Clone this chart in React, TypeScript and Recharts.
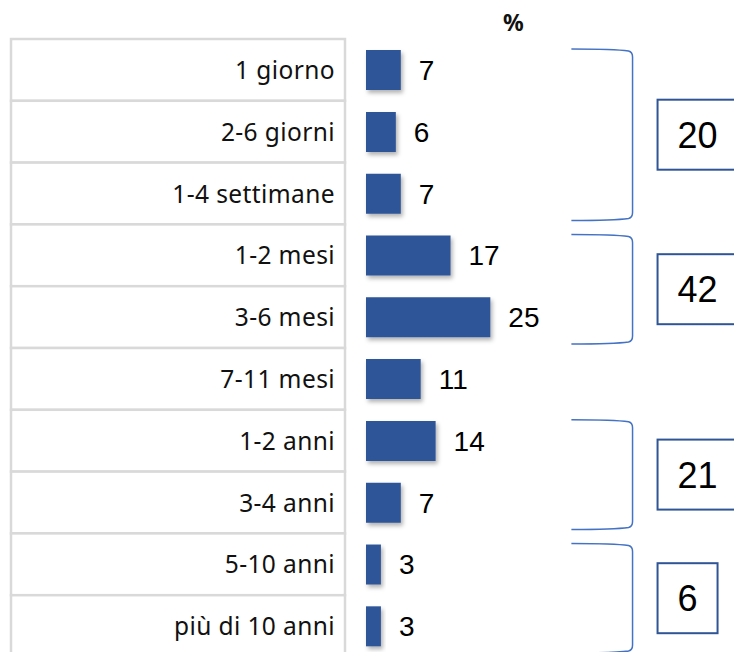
import { BarChart, Bar, XAxis, YAxis, LabelList, ReferenceArea } from 'recharts'

const categories = ['1 giorno', '2-6 giorni', '1-4 settimane', '1-2 mesi', '3-6 mesi', '7-11 mesi', '1-2 anni', '3-4 anni', '5-10 anni', 'più di 10 anni']
const values = [7, 6, 7, 17, 25, 11, 14, 7, 3, 3]
const groups = [
  { from: '1 giorno', to: '1-4 settimane' },
  { from: '1-2 mesi', to: '3-6 mesi' },
  { from: '1-2 anni', to: '3-4 anni' },
  { from: '5-10 anni', to: 'più di 10 anni' },
]

const data = categories.map((name, i) => ({ name, value: values[i] }))
const groupTotal = (g: { from: string; to: string }) =>
  values.slice(categories.indexOf(g.from), categories.indexOf(g.to) + 1).reduce((a, b) => a + b, 0)

const W = 734
const H = 660
const TOP = 39
const BOTTOM = 3
const ROW_H = (H - TOP - BOTTOM) / categories.length
const BLUE = '#2F5597'
const LABEL_FONT = '"Noto Sans", sans-serif'
const NUM_FONT = '"Liberation Sans", Arial, sans-serif'

function CellTick({ y, payload }: any) {
  return (
    <g>
      <rect x={11} y={y - ROW_H / 2} width={334} height={ROW_H} fill="#fff" stroke="#D9D9D9" strokeWidth={2.5} />
      <text x={335} y={y + 9} textAnchor="end" fontSize={24.5} letterSpacing={0.4} fontFamily={LABEL_FONT} fill="#111">
        {payload.value}
      </text>
    </g>
  )
}

function Brace({ x, y, width, height, total }: any) {
  const top = y + 10
  const bot = y + height - 4
  const l = x
  const r = x + width
  const d = `M${l},${top} Q${r - 18},${top} ${r - 4},${top + 2} Q${r},${top + 3} ${r},${top + 8} L${r},${bot - 8} Q${r},${bot - 3} ${r - 4},${bot - 2} Q${r - 18},${bot} ${l},${bot}`
  const digits = String(total).length
  const bw = 40 + digits * 20
  const bh = 70
  const cy = (top + bot) / 2
  const bx = r + 25
  return (
    <g>
      <path d={d} fill="none" stroke="#4472C4" strokeWidth={1.5} />
      <rect x={bx} y={cy - bh / 2} width={bw} height={bh} fill="#fff" stroke={BLUE} strokeWidth={2} />
      <text x={bx + 20} y={cy + 13} textAnchor="start" fontSize={36} fontFamily={NUM_FONT} fill="#000">
        {total}
      </text>
    </g>
  )
}

export default function App() {
  return (
    <div style={{ position: 'relative', width: W, height: 652, overflow: 'hidden', background: '#fff' }}>
      <style>{'body{margin:0}'}</style>
      <div
        style={{
          position: 'absolute',
          left: 503,
          top: 6,
          fontFamily: LABEL_FONT,
          fontWeight: 700,
          fontSize: 23,
          color: '#111',
        }}
      >
        %
      </div>
      <BarChart
        width={W}
        height={H}
        data={data}
        layout="vertical"
        margin={{ top: TOP, right: 0, bottom: BOTTOM, left: 0 }}
        barCategoryGap="18%"
      >
        <defs>
          <filter id="barShadow" x="-20%" y="-20%" width="150%" height="150%">
            <feDropShadow dx={2} dy={3} stdDeviation={2} floodColor="#000" floodOpacity={0.3} />
          </filter>
        </defs>
        <XAxis type="number" domain={[0, 74]} hide />
        <YAxis
          type="category"
          dataKey="name"
          width={366}
          axisLine={false}
          tickLine={false}
          interval={0}
          tick={<CellTick />}
        />
        <Bar dataKey="value" fill={BLUE} isAnimationActive={false} filter="url(#barShadow)">
          <LabelList dataKey="value" position="right" offset={18} fontSize={28} fontFamily={NUM_FONT} fill="#000" />
        </Bar>
        {groups.map(g => (
          <ReferenceArea
            key={g.from}
            y1={g.from}
            y2={g.to}
            x1={41.3}
            x2={53.6}
            ifOverflow="visible"
            shape={(p: any) => <Brace {...p} total={groupTotal(g)} />}
          />
        ))}
      </BarChart>
    </div>
  )
}
